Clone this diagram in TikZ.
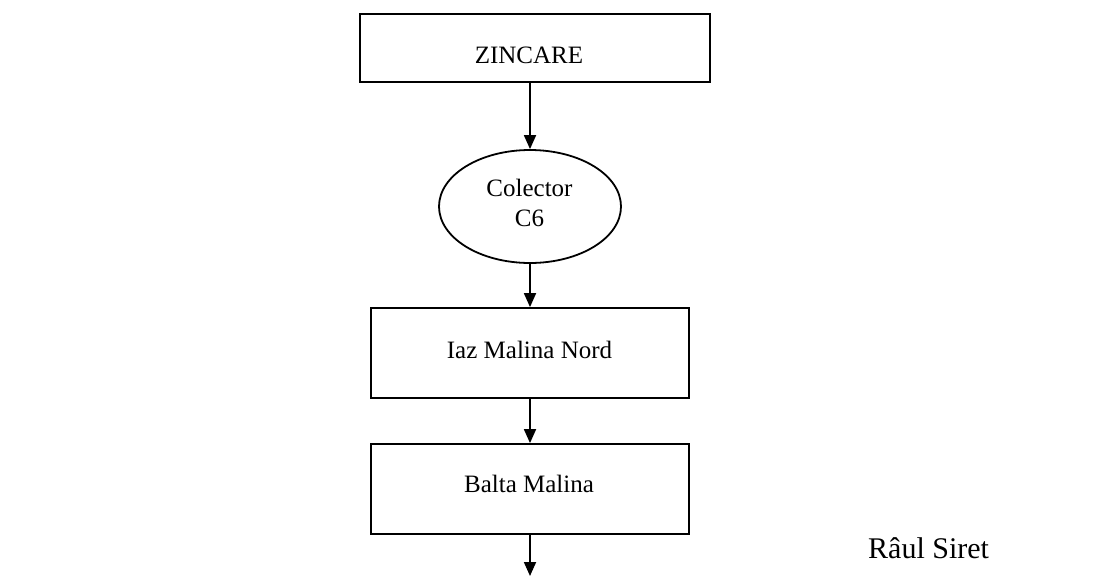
\documentclass[tikz,border=0pt]{standalone}
\usepackage{fontspec}
\setmainfont{Liberation Serif}
\usetikzlibrary{shapes.geometric,arrows.meta}
\begin{document}
\begin{tikzpicture}[x=1pt,y=-1pt,
  every node/.style={inner sep=0pt},
  box/.style={draw,line width=1.8pt,rectangle},
  oval/.style={draw,line width=1.8pt,ellipse},
  txt/.style={anchor=base,font=\fontsize{25}{30}\selectfont},
  flow/.style={line width=1.8pt,-{Triangle[length=14pt,width=12pt]}}]
\useasboundingbox (0,0) rectangle (1105,576);
\fill[white] (0,0) rectangle (1105,576);

% process boxes and collector
\node[box,minimum width=350pt,minimum height=68pt] (zinc) at (535,48) {};
\node[oval,minimum width=182pt,minimum height=113pt] (col) at (530,206.5) {};
\node[box,minimum width=318pt,minimum height=90pt] (iaz) at (530,353) {};
\node[box,minimum width=318pt,minimum height=90pt] (balta) at (530,489) {};
\coordinate (out) at (530,576);

% labels
\node[txt] (tzinc) at (529,63) {ZINCARE};
\node[txt] (tcol1) at (529.5,196) {Colector};
\node[txt] (tcol2) at (529.5,226) {C6};
\node[txt] (tiaz) at (529.5,358) {Iaz Malina Nord};
\node[txt] (tbalta) at (529,492) {Balta Malina};
\node[anchor=base west,font=\fontsize{30}{36}\selectfont] (siret) at (868,558) {Râul Siret};

% flow connectors
\draw[flow] (zinc.south -| col.north) -- (col.north);
\draw[flow] (col.south) -- (iaz.north);
\draw[flow] (iaz.south) -- (balta.north);
\draw[flow] (balta.south) -- (out);
\end{tikzpicture}
\end{document}
